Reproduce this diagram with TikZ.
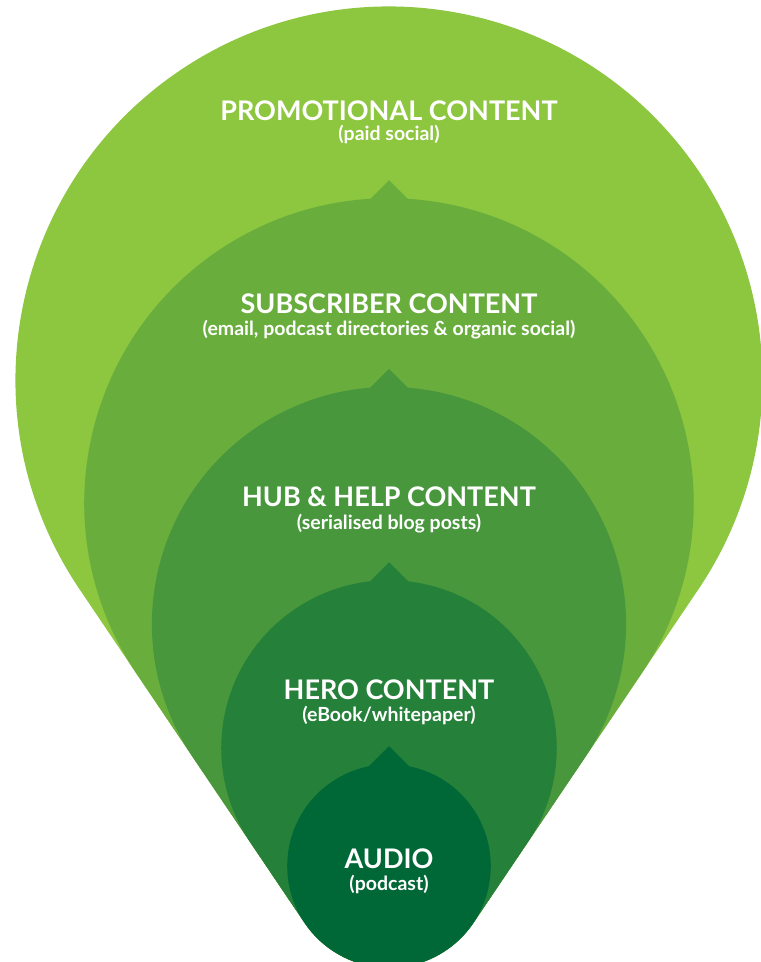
\documentclass[tikz,border=0pt]{standalone}
\usepackage{fontspec}
\setmainfont{Lato}
\usetikzlibrary{calc}
\definecolor{cA}{RGB}{141,198,63}
\definecolor{cB}{RGB}{105,174,61}
\definecolor{cC}{RGB}{72,151,61}
\definecolor{cD}{RGB}{37,128,58}
\definecolor{cE}{RGB}{0,104,55}
\tikzset{
  title/.style={text=white,font=\bfseries\fontsize{27}{30}\selectfont,anchor=base,inner sep=0pt},
  subtitle/.style={text=white,font=\bfseries\fontsize{19.5}{22}\selectfont,anchor=base,inner sep=0pt}
}
\begin{document}
\begin{tikzpicture}[x=1pt,y=1pt]
\useasboundingbox (0,0) rectangle (761,-962);
\pgfmathsetmacro\rE{(1048-866)*sin(34)}
\coordinate (cE) at (389,-866);
\foreach \cy/\col/\notch in {380/cA/0,503/cB/1,624/cC/1,748/cD/1,866/cE/1}{
  \pgfmathsetmacro\rr{(1048-\cy)*sin(34)}
  \pgfmathsetmacro\top{\cy-\rr}
  \coordinate (c) at (389,-\cy);
  \fill[\col] ($(c)+(214:\rr)$) arc[start angle=214,end angle=-34,radius=\rr]
     -- ($(cE)+(-34:\rE)$) arc[start angle=-34,end angle=-146,radius=\rE] -- cycle;
  \ifnum\notch=1
    \fill[\col] (389,-\top+18) -- (411,-\top-4) -- (367,-\top-4) -- cycle;
  \fi
}
\node[title] (t1) at (389,-120) {PROMOTIONAL CONTENT};
\node[subtitle] (s1) at (389,-140) {(paid social)};
\node[title] (t2) at (389,-313) {SUBSCRIBER CONTENT};
\node[subtitle] (s2) at (389,-335) {(email, podcast directories \& organic social)};
\node[title] (t3) at (389,-506) {HUB \& HELP CONTENT};
\node[subtitle] (s3) at (389,-529) {(serialised blog posts)};
\node[title] (t4) at (389,-699) {HERO CONTENT};
\node[subtitle] (s4) at (389,-721) {(eBook/whitepaper)};
\node[title] (t5) at (389,-868) {AUDIO};
\node[subtitle] (s5) at (389,-890) {(podcast)};
\end{tikzpicture}
\end{document}
